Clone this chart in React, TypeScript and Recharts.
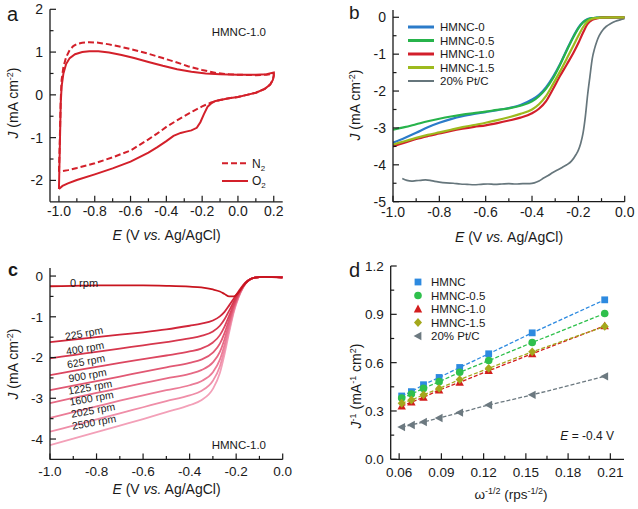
import React from "react";
import { LineChart, Line, XAxis, YAxis } from "recharts";

const FONT = "'Liberation Sans', Arial, Helvetica, sans-serif";
const INK = "#1a1a1a";

// ---------- a: cyclic voltammetry, HMNC-1.0 ----------
const cvN2E = [-1.0, -0.995, -0.99, -0.985, -0.975, -0.96, -0.94, -0.92, -0.9, -0.87, -0.83, -0.78, -0.72, -0.65, -0.58, -0.5, -0.42, -0.35, -0.28, -0.2, -0.12, -0.05, 0.0, 0.1, 0.16, 0.2, 0.2, 0.195, 0.18, 0.15, 0.1, 0.05, 0.0, -0.05, -0.1, -0.15, -0.2, -0.25, -0.3, -0.35, -0.4, -0.45, -0.5, -0.6, -0.7, -0.8, -0.9, -0.95, -1.0];
const cvN2J = [-1.8, -1.0, -0.1, 0.35, 0.65, 0.88, 1.05, 1.14, 1.19, 1.22, 1.23, 1.22, 1.18, 1.12, 1.05, 0.96, 0.86, 0.77, 0.67, 0.58, 0.51, 0.48, 0.47, 0.46, 0.47, 0.5, 0.45, 0.35, 0.24, 0.14, 0.05, 0.0, -0.05, -0.08, -0.12, -0.18, -0.27, -0.38, -0.5, -0.62, -0.75, -0.9, -1.04, -1.3, -1.46, -1.6, -1.71, -1.76, -1.8];
const cvO2E = [-1.0, -0.995, -0.99, -0.985, -0.975, -0.96, -0.94, -0.91, -0.87, -0.83, -0.78, -0.72, -0.65, -0.58, -0.5, -0.42, -0.34, -0.26, -0.18, -0.1, 0.0, 0.1, 0.16, 0.2, 0.2, 0.195, 0.18, 0.15, 0.1, 0.05, 0.0, -0.05, -0.1, -0.13, -0.15, -0.17, -0.19, -0.21, -0.23, -0.26, -0.29, -0.32, -0.36, -0.4, -0.45, -0.5, -0.6, -0.7, -0.8, -0.9, -0.95, -0.98, -1.0];
const cvO2J = [-2.2, -1.2, -0.2, 0.2, 0.5, 0.72, 0.86, 0.95, 1.0, 1.02, 1.02, 0.99, 0.93, 0.86, 0.77, 0.68, 0.6, 0.54, 0.5, 0.48, 0.47, 0.47, 0.48, 0.52, 0.45, 0.35, 0.24, 0.14, 0.05, 0.0, -0.05, -0.08, -0.12, -0.15, -0.2, -0.28, -0.45, -0.64, -0.77, -0.83, -0.86, -0.89, -0.96, -1.08, -1.22, -1.35, -1.56, -1.72, -1.86, -1.99, -2.07, -2.13, -2.2];

// ---------- b: LSV of catalysts ----------
const lsvE = [-1.0, -0.95, -0.9, -0.85, -0.8, -0.75, -0.7, -0.65, -0.6, -0.55, -0.5, -0.45, -0.4, -0.37, -0.34, -0.31, -0.28, -0.25, -0.22, -0.2, -0.18, -0.16, -0.14, -0.12, -0.1, -0.05, 0.0];
const hmnc0J = [-3.4, -3.27, -3.13, -2.98, -2.86, -2.76, -2.68, -2.62, -2.57, -2.52, -2.46, -2.38, -2.23, -2.1, -1.9, -1.62, -1.28, -0.88, -0.5, -0.28, -0.13, -0.05, -0.02, -0.01, 0, 0, 0];
const hmnc05J = [-3.05, -2.98, -2.9, -2.82, -2.75, -2.69, -2.64, -2.6, -2.56, -2.51, -2.47, -2.4, -2.28, -2.14, -1.94, -1.66, -1.3, -0.9, -0.52, -0.3, -0.14, -0.06, -0.02, -0.01, 0, 0, 0];
const hmnc10J = [-3.5, -3.4, -3.3, -3.22, -3.15, -3.08, -3.02, -2.97, -2.93, -2.87, -2.8, -2.72, -2.6, -2.48, -2.28, -1.95, -1.6, -1.28, -0.95, -0.7, -0.42, -0.18, -0.07, -0.03, -0.01, 0, 0];
const hmnc15J = [-3.45, -3.36, -3.27, -3.19, -3.12, -3.05, -2.98, -2.92, -2.86, -2.79, -2.71, -2.62, -2.5, -2.36, -2.14, -1.82, -1.48, -1.12, -0.75, -0.5, -0.27, -0.11, -0.04, -0.02, -0.01, 0, 0];
const ptcE = [-0.96, -0.94, -0.92, -0.9, -0.88, -0.86, -0.84, -0.82, -0.8, -0.77, -0.74, -0.71, -0.68, -0.65, -0.62, -0.59, -0.56, -0.53, -0.5, -0.47, -0.44, -0.41, -0.39, -0.37, -0.35, -0.33, -0.31, -0.29, -0.27, -0.25, -0.23, -0.21, -0.2, -0.19, -0.18, -0.17, -0.16, -0.15, -0.14, -0.13, -0.12, -0.11, -0.1, -0.08, -0.06, -0.04, -0.02, 0.0];
const ptcJ = [-4.37, -4.42, -4.44, -4.43, -4.42, -4.41, -4.42, -4.45, -4.47, -4.49, -4.5, -4.52, -4.53, -4.54, -4.53, -4.52, -4.53, -4.52, -4.51, -4.52, -4.51, -4.51, -4.49, -4.44, -4.36, -4.29, -4.21, -4.14, -4.07, -4.0, -3.9, -3.72, -3.6, -3.42, -3.15, -2.7, -2.1, -1.6, -1.12, -0.85, -0.65, -0.5, -0.39, -0.25, -0.17, -0.11, -0.07, -0.04];
const lsvNames = ["HMNC-0", "HMNC-0.5", "HMNC-1.0", "HMNC-1.5", "20% Pt/C"];
const lsvColors = ["#2b7bc9", "#27b34b", "#d21f2b", "#9dba1e", "#66767c"];

// ---------- c: HMNC-1.0 at different rotation rates ----------
const rdeE = [-1.0, -0.9, -0.8, -0.7, -0.6, -0.5, -0.4, -0.35, -0.3, -0.27, -0.25, -0.23, -0.21, -0.19, -0.17, -0.15, -0.12, -0.08, 0.0];
const rpm0J = [-0.25, -0.24, -0.23, -0.23, -0.23, -0.24, -0.26, -0.28, -0.33, -0.38, -0.44, -0.5, -0.5, -0.4, -0.24, -0.12, -0.04, -0.02, -0.04];
const rpm225J = [-1.62, -1.56, -1.5, -1.44, -1.38, -1.31, -1.22, -1.17, -1.09, -0.99, -0.88, -0.72, -0.55, -0.38, -0.22, -0.11, -0.04, -0.02, -0.03];
const rpm400J = [-2.02, -1.94, -1.86, -1.78, -1.7, -1.62, -1.53, -1.47, -1.36, -1.22, -1.06, -0.85, -0.62, -0.42, -0.24, -0.12, -0.04, -0.02, -0.03];
const rpm625J = [-2.43, -2.33, -2.23, -2.13, -2.04, -1.95, -1.85, -1.78, -1.63, -1.45, -1.24, -0.97, -0.69, -0.45, -0.25, -0.12, -0.04, -0.02, -0.03];
const rpm900J = [-2.8, -2.69, -2.58, -2.47, -2.35, -2.24, -2.13, -2.05, -1.88, -1.66, -1.4, -1.07, -0.74, -0.47, -0.26, -0.12, -0.04, -0.02, -0.03];
const rpm1225J = [-3.12, -2.99, -2.87, -2.75, -2.63, -2.51, -2.4, -2.31, -2.12, -1.86, -1.55, -1.16, -0.78, -0.49, -0.26, -0.12, -0.04, -0.02, -0.03];
const rpm1600J = [-3.48, -3.34, -3.2, -3.06, -2.93, -2.8, -2.68, -2.58, -2.36, -2.05, -1.69, -1.25, -0.82, -0.5, -0.27, -0.12, -0.04, -0.02, -0.03];
const rpm2025J = [-3.82, -3.67, -3.52, -3.37, -3.22, -3.07, -2.93, -2.82, -2.57, -2.22, -1.81, -1.32, -0.85, -0.52, -0.27, -0.12, -0.04, -0.02, -0.03];
const rpm2500J = [-4.15, -3.99, -3.83, -3.67, -3.51, -3.34, -3.17, -3.05, -2.77, -2.38, -1.92, -1.38, -0.88, -0.53, -0.28, -0.13, -0.04, -0.02, -0.03];
const rpmRates = [0, 225, 400, 625, 900, 1225, 1600, 2025, 2500];
const rpmSeries = [rpm0J, rpm225J, rpm400J, rpm625J, rpm900J, rpm1225J, rpm1600J, rpm2025J, rpm2500J];
const rpmColors = ["#c8141e", "#d0263a", "#d6374d", "#dc4760", "#e15873", "#e66a85", "#eb7c97", "#ef8ea8", "#f3a0b8"];

// ---------- d: Koutecky-Levich plots at -0.4 V ----------
const omegaInvSqrt = [0.0618, 0.0687, 0.0773, 0.0884, 0.103, 0.1236, 0.1545, 0.206];
const klHmnc = [0.393, 0.42, 0.463, 0.508, 0.57, 0.655, 0.785, 0.99];
const klHmnc05 = [0.38, 0.405, 0.44, 0.482, 0.54, 0.613, 0.725, 0.905];
const klHmnc10 = [0.33, 0.355, 0.385, 0.43, 0.478, 0.55, 0.655, 0.828];
const klHmnc15 = [0.348, 0.368, 0.4, 0.44, 0.495, 0.565, 0.667, 0.825];
const klPtc = [0.2, 0.213, 0.232, 0.256, 0.29, 0.337, 0.4, 0.515];
const klNames = ["HMNC", "HMNC-0.5", "HMNC-1.0", "HMNC-1.5", "20% Pt/C"];
const klColors = ["#2d8ae0", "#2fc04c", "#d31e1e", "#a4a81c", "#6c7980"];
const klShapes = ["square", "circle", "triangle", "diamond", "left"];

// tick labels
const aX = { domain: [-1.05, 0.25], major: [-1.0, -0.8, -0.6, -0.4, -0.2, 0.0, 0.2], minor: [-0.9, -0.7, -0.5, -0.3, -0.1, 0.1], fmt: (v: number) => v.toFixed(1) };
const aY = { domain: [-2.5, 2], major: [-2, -1, 0, 1, 2], minor: [-1.5, -0.5, 0.5, 1.5], fmt: (v: number) => String(v) };
const bX = { domain: [-1, 0], major: [-1.0, -0.8, -0.6, -0.4, -0.2, 0.0], minor: [-0.9, -0.7, -0.5, -0.3, -0.1], fmt: (v: number) => v.toFixed(1) };
const bY = { domain: [-5, 0.2], major: [-5, -4, -3, -2, -1, 0], minor: [-4.5, -3.5, -2.5, -1.5, -0.5], fmt: (v: number) => String(v) };
const cY = { domain: [-4.5, 0.2], major: [-4, -3, -2, -1, 0], minor: [-3.5, -2.5, -1.5, -0.5], fmt: (v: number) => String(v) };
const dX = { domain: [0.054, 0.2197], major: [0.06, 0.09, 0.12, 0.15, 0.18, 0.21], minor: [0.075, 0.105, 0.135, 0.165, 0.195], fmt: (v: number) => v.toFixed(2) };
const dY = { domain: [0, 1.2], major: [0, 0.3, 0.6, 0.9, 1.2], minor: [0.15, 0.45, 0.75, 1.05], fmt: (v: number) => v.toFixed(1) };

type AxisDef = { domain: number[]; major: number[]; minor: number[]; fmt: (v: number) => string };
type Box = { l: number; t: number; r: number; b: number };

const toXY = (xs: number[], ys: number[]) => xs.map((x, i) => ({ x, y: ys[i] }));

const makeTick = (side: string, axis: AxisDef, fs: number, gap: number) => (p: any) => {
  const v = p.payload?.value;
  const major = axis.major.some((m) => Math.abs(m - v) < 1e-9);
  const len = major ? 6 : 3.5;
  const { x, y } = p;
  const ln = { stroke: INK, strokeWidth: 1.2 };
  if (side === "bottom")
    return (
      <g>
        <line x1={x} y1={y} x2={x} y2={y - len} {...ln} />
        {major && <text x={x} y={y + gap} textAnchor="middle" fontSize={fs} fontFamily={FONT} fill={INK}>{axis.fmt(v)}</text>}
      </g>
    );
  if (side === "top") return <line x1={x} y1={y} x2={x} y2={y + len} {...ln} />;
  if (side === "left")
    return (
      <g>
        <line x1={x} y1={y} x2={x + len} y2={y} {...ln} />
        {major && <text x={x - gap} y={y + fs * 0.36} textAnchor="end" fontSize={fs} fontFamily={FONT} fill={INK}>{axis.fmt(v)}</text>}
      </g>
    );
  return <line x1={x} y1={y} x2={x - len} y2={y} {...ln} />;
};

const axisLine = { stroke: INK, strokeWidth: 1.3 };

function FramedChart(props: { left: number; top: number; width: number; height: number; plot: Box; xa: AxisDef; ya: AxisDef; fs: number; xGap: number; children: React.ReactNode }) {
  const { left, top, width, height, plot, xa, ya, fs, xGap, children } = props;
  const common = { type: "number" as const, allowDataOverflow: true, interval: 0 as const, tickSize: 0, tickMargin: 0, tickLine: false, axisLine };
  return (
    <div style={{ position: "absolute", left, top }}>
      <LineChart width={width} height={height} margin={{ top: plot.t - top, right: left + width - plot.r, bottom: 0, left: 0 }}>
        <XAxis xAxisId="b" dataKey="x" {...common} domain={xa.domain} ticks={[...xa.major, ...xa.minor]} height={top + height - plot.b} tick={makeTick("bottom", xa, fs, xGap)} />
        <XAxis xAxisId="t" dataKey="x" orientation="top" {...common} domain={xa.domain} ticks={[...xa.major, ...xa.minor]} height={0} tick={makeTick("top", xa, fs, 0)} />
        <YAxis yAxisId="l" {...common} domain={ya.domain} ticks={[...ya.major, ...ya.minor]} width={plot.l - left} tick={makeTick("left", ya, fs, 7)} />
        <YAxis yAxisId="r" orientation="right" {...common} domain={ya.domain} ticks={[...ya.major, ...ya.minor]} width={0} tick={makeTick("right", ya, fs, 0)} />
        <Line xAxisId="t" yAxisId="r" data={toXY(xa.domain, ya.domain)} dataKey="y" stroke="none" dot={false} activeDot={false} isAnimationActive={false} />
        {children}
      </LineChart>
    </div>
  );
}

function Marker({ shape, cx, cy, color, s = 3.4 }: { shape: string; cx: number; cy: number; color: string; s?: number }) {
  if (shape === "square") return <rect x={cx - s} y={cy - s} width={2 * s} height={2 * s} fill={color} />;
  if (shape === "circle") return <circle cx={cx} cy={cy} r={s + 0.4} fill={color} />;
  if (shape === "triangle") return <polygon points={`${cx},${cy - s - 1} ${cx + s + 0.8},${cy + s} ${cx - s - 0.8},${cy + s}`} fill={color} />;
  if (shape === "diamond") return <polygon points={`${cx},${cy - s - 1} ${cx + s + 0.6},${cy} ${cx},${cy + s + 1} ${cx - s - 0.6},${cy}`} fill={color} />;
  return <polygon points={`${cx - s - 1},${cy} ${cx + s},${cy - s - 0.8} ${cx + s},${cy + s + 0.8}`} fill={color} />;
}

const T = (p: any) => <text fontFamily={FONT} fill={INK} {...p} />;

const AX_RED = "#d3202a";
const lsvSeries = [toXY(lsvE, hmnc0J), toXY(lsvE, hmnc05J), toXY(lsvE, hmnc10J), toXY(lsvE, hmnc15J), toXY(ptcE, ptcJ)];
const klSeries = [klHmnc, klHmnc05, klHmnc10, klHmnc15, klPtc].map((ys) => toXY(omegaInvSqrt, ys));

// where the rotated rpm captions sit (layout only)
const rpmLabelPos = [[84, 283], [84, 333], [85, 348], [86, 361], [87.5, 375], [90, 387], [91.5, 398], [93, 410], [94, 422]];

const JLabel = ({ x, y }: { x: number; y: number }) => (
  <T transform={`translate(${x},${y}) rotate(-90)`} textAnchor="middle" fontSize={14}>
    <tspan fontStyle="italic">J</tspan>
    <tspan> (mA cm</tspan>
    <tspan dy={-5} fontSize={9}>-2</tspan>
    <tspan dy={5}>)</tspan>
  </T>
);
const ELabel = ({ x, y }: { x: number; y: number }) => (
  <T x={x} y={y} textAnchor="middle" fontSize={14}>
    <tspan fontStyle="italic">E</tspan>
    <tspan> (V </tspan>
    <tspan fontStyle="italic">vs.</tspan>
    <tspan> Ag/AgCl)</tspan>
  </T>
);

export default function App() {
  return (
    <div style={{ position: "relative", width: 638, height: 509, background: "#fff", overflow: "hidden" }}>
      <style>{"body{margin:0}"}</style>

      <FramedChart left={0} top={0} width={318} height={250} plot={{ l: 50, t: 9.3, r: 282.7, b: 201.8 }} xa={aX} ya={aY} fs={14} xGap={14.4}>
        <Line xAxisId="b" yAxisId="l" data={toXY(cvN2E, cvN2J)} dataKey="y" type="linear" stroke={AX_RED} strokeWidth={2} strokeDasharray="6 3" dot={false} activeDot={false} isAnimationActive={false} />
        <Line xAxisId="b" yAxisId="l" data={toXY(cvO2E, cvO2J)} dataKey="y" type="linear" stroke={AX_RED} strokeWidth={2} dot={false} activeDot={false} isAnimationActive={false} />
      </FramedChart>

      <FramedChart left={318} top={0} width={320} height={250} plot={{ l: 393, t: 9.9, r: 624.7, b: 201.7 }} xa={bX} ya={bY} fs={14} xGap={14.8}>
        {[4, 0, 1, 2, 3].map((i) => (
          <Line key={i} xAxisId="b" yAxisId="l" data={lsvSeries[i]} dataKey="y" type="monotone" stroke={lsvColors[i]} strokeWidth={i === 4 ? 1.7 : 2.2} dot={false} activeDot={false} isAnimationActive={false} />
        ))}
      </FramedChart>

      <FramedChart left={0} top={250} width={318} height={259} plot={{ l: 50, t: 267.9, r: 282.7, b: 459.4 }} xa={bX} ya={cY} fs={13.5} xGap={16.6}>
        {rpmSeries.map((ys, i) => (
          <Line key={i} xAxisId="b" yAxisId="l" data={toXY(rdeE, ys)} dataKey="y" type="monotone" stroke={rpmColors[i]} strokeWidth={1.8} dot={false} activeDot={false} isAnimationActive={false} />
        )).reverse()}
      </FramedChart>

      <FramedChart left={318} top={250} width={320} height={259} plot={{ l: 390.7, t: 266, r: 624, b: 459.3 }} xa={dX} ya={dY} fs={13.5} xGap={17.2}>
        {[4, 0, 1, 2, 3].map((i) => (
          <Line
            key={i}
            xAxisId="b"
            yAxisId="l"
            data={klSeries[i]}
            dataKey="y"
            type="linear"
            stroke={klColors[i]}
            strokeWidth={1.3}
            strokeDasharray="4 2"
            activeDot={false}
            isAnimationActive={false}
            dot={(p: any) => <Marker key={`${i}-${p.index}`} shape={klShapes[i]} cx={p.cx} cy={p.cy} color={klColors[i]} />}
          />
        ))}
      </FramedChart>

      <svg width={638} height={509} style={{ position: "absolute", left: 0, top: 0, pointerEvents: "none" }}>
        {/* panel letters */}
        <T x={7} y={21} fontSize={20}>a</T>
        <T x={349} y={18.5} fontSize={19}>b</T>
        <T x={8} y={276} fontSize={18} fontWeight="bold">c</T>
        <T x={349} y={276.5} fontSize={20}>d</T>

        {/* axis titles */}
        <JLabel x={18} y={103} />
        <JLabel x={360} y={105} />
        <JLabel x={18} y={364} />
        <T transform="translate(361,386) rotate(-90)" textAnchor="middle" fontSize={14}>
          <tspan fontStyle="italic">J</tspan>
          <tspan dy={-5} fontSize={9}>-1</tspan>
          <tspan dy={5}> (mA</tspan>
          <tspan dy={-5} fontSize={9}>-1</tspan>
          <tspan dy={5}> cm</tspan>
          <tspan dy={-5} fontSize={9}>2</tspan>
          <tspan dy={5}>)</tspan>
        </T>
        <ELabel x={166.5} y={240} />
        <ELabel x={509} y={242} />
        <ELabel x={166.5} y={494} />
        <T x={511} y={499} textAnchor="middle" fontSize={13.5}>
          <tspan>ω</tspan>
          <tspan dy={-5} fontSize={9}>-1/2</tspan>
          <tspan dy={5}> (rps</tspan>
          <tspan dy={-5} fontSize={9}>-1/2</tspan>
          <tspan dy={5}>)</tspan>
        </T>

        {/* a annotations */}
        <T x={266} y={36} textAnchor="end" fontSize={11.5}>HMNC-1.0</T>
        <line x1={222} y1={163.3} x2={248} y2={163.3} stroke={AX_RED} strokeWidth={2} strokeDasharray="6 3" />
        <line x1={222} y1={181} x2={248} y2={181} stroke={AX_RED} strokeWidth={2} />
        <T x={252} y={167.5} fontSize={12}>N<tspan dy={3} fontSize={8}>2</tspan></T>
        <T x={252} y={185.2} fontSize={12}>O<tspan dy={3} fontSize={8}>2</tspan></T>

        {/* b legend */}
        {lsvNames.map((n, i) => (
          <g key={n}>
            <line x1={408} y1={27 + i * 13.5} x2={434} y2={27 + i * 13.5} stroke={lsvColors[i]} strokeWidth={i === 4 ? 2 : 3} />
            <T x={440} y={31 + i * 13.5} fontSize={11.5}>{n}</T>
          </g>
        ))}

        {/* c annotations */}
        {rpmRates.map((r, i) => (
          <T key={r} transform={`translate(${rpmLabelPos[i][0]},${rpmLabelPos[i][1]}) rotate(${i === 0 ? 0 : -10})`} textAnchor="middle" y={4} fontSize={i === 0 ? 11 : 10.5}>{`${r} rpm`}</T>
        ))}
        <T x={266} y={448.5} textAnchor="end" fontSize={11.5}>HMNC-1.0</T>

        {/* d legend */}
        {klNames.map((n, i) => (
          <g key={n}>
            <Marker shape={klShapes[i]} cx={418} cy={282 + i * 13.5} color={klColors[i]} />
            <T x={431} y={286 + i * 13.5} fontSize={11.5}>{n}</T>
          </g>
        ))}
        <T x={614} y={440} textAnchor="end" fontSize={12}>
          <tspan fontStyle="italic">E</tspan> = -0.4 V
        </T>
      </svg>
    </div>
  );
}
